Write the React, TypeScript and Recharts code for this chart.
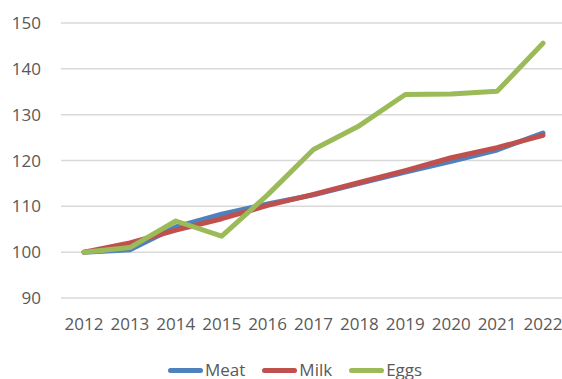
import React from "react";
import { LineChart, Line, XAxis, YAxis, CartesianGrid } from "recharts";

const years = ["2012", "2013", "2014", "2015", "2016", "2017", "2018", "2019", "2020", "2021", "2022"];
const meat = [100, 100.5, 105.5, 108.3, 110.5, 112.5, 115, 117.5, 119.8, 122.3, 126];
const milk = [100, 102, 104.8, 107.3, 110.2, 112.6, 115.2, 117.8, 120.6, 122.8, 125.5];
const eggs = [100, 101, 106.8, 103.5, 112.5, 122.4, 127.6, 134.4, 134.5, 135.1, 145.6];
const yTicks = [90, 100, 110, 120, 130, 140, 150];

const series = [
  { key: "Meat", color: "#4F81BD" },
  { key: "Milk", color: "#C0504D" },
  { key: "Eggs", color: "#9BBB59" },
];

const data = years.map((year, i) => ({
  year,
  Meat: meat[i],
  Milk: milk[i],
  Eggs: eggs[i],
}));

const font = "'Open Sans', sans-serif";

export default function App() {
  return (
    <div style={{ position: "absolute", left: 0, top: 0, width: 562, height: 379, overflow: "hidden" }}>
      <LineChart width={580} height={379} data={data} margin={{ top: 23, right: 14, bottom: 41, left: 0 }}>
        <CartesianGrid vertical={false} stroke="#D9D9D9" strokeWidth={1.5} />
        <XAxis
          dataKey="year"
          height={40}
          padding={{ left: 23, right: 23 }}
          axisLine={false}
          tickLine={false}
          tickSize={0}
          tickMargin={20}
          tick={{ fill: "#595959", fontSize: 17, fontFamily: font }}
          interval={0}
        />
        <YAxis
          width={61}
          domain={[90, 150]}
          ticks={yTicks}
          axisLine={false}
          tickLine={false}
          tickSize={0}
          tickMargin={20}
          tick={{ fill: "#595959", fontSize: 17, fontFamily: font }}
        />
        {series.map((s) => (
          <Line
            key={s.key}
            type="linear"
            dataKey={s.key}
            stroke={s.color}
            strokeWidth={5}
            strokeLinecap="round"
            strokeLinejoin="round"
            dot={false}
            isAnimationActive={false}
          />
        ))}
      </LineChart>
      {/* legend sits below the axis, partly cut off like the source */}
      <div
        style={{
          position: "absolute",
          left: 168,
          top: 359,
          display: "flex",
          fontFamily: font,
          fontSize: 17,
          color: "#595959",
          lineHeight: "22px",
        }}
      >
        {series.map((s) => (
          <div key={s.key} style={{ display: "flex", alignItems: "center", marginRight: 17 }}>
            <span style={{ display: "inline-block", width: 35, height: 5, borderRadius: 3, background: s.color, marginRight: 2 }} />
            <span>{s.key}</span>
          </div>
        ))}
      </div>
    </div>
  );
}
